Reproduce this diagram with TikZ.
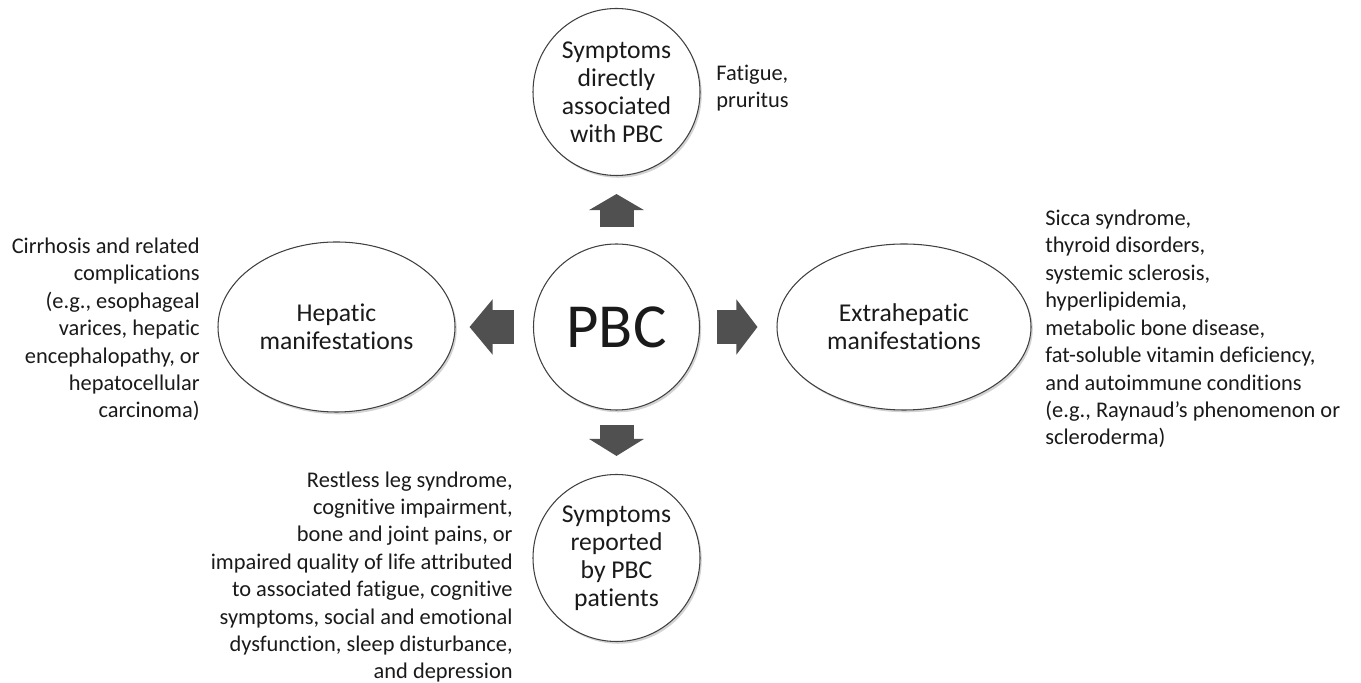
\documentclass[tikz,border=0pt]{standalone}
\usepackage{fontspec}
\setmainfont{Carlito}[Ligatures=NoCommon]
\usepackage{xcolor}
\usepackage{tikz}
\usetikzlibrary{shapes.geometric}
\usetikzlibrary{arrows.meta,shadows}
\definecolor{arrowgray}{HTML}{505050}
\definecolor{inkblack}{HTML}{1A1A1A}

\begin{document}
\begin{tikzpicture}[
	bubble/.style={circle,draw=black!75,line width=0.6pt,fill=white,text=inkblack,inner sep=0pt,
		minimum size=3.34cm,align=center,font=\fontsize{14.6}{16}\selectfont,
		drop shadow={shadow xshift=1pt,shadow yshift=-1.3pt,opacity=0.35}},
	oval/.style={bubble,ellipse},
	note/.style={inner sep=0pt,text=inkblack,font=\fontsize{12.75}{15.6}\selectfont},
	blockarrow/.style={draw=arrowgray,line width=0.68cm,-{Triangle[length=#1,width=1.08cm]}},
	blockarrow/.default=0.44cm]
	\useasboundingbox (0,0) rectangle (27.22,13.66);
	% centre and the four groups
	\node[bubble,minimum size=3.32cm,font=\fontsize{35.7}{40}\selectfont] (pbc) at (12.33,7.12) {PBC};
	\node[bubble] (direct) at (12.33,11.82) {Symptoms\\directly\\associated\\with PBC};
	\node[bubble] (reported) at (12.33,2.50) {Symptoms\\reported\\by PBC\\patients};
	\node[oval,minimum width=4.74cm,minimum height=3.40cm] (hepatic) at (6.73,7.12) {Hepatic\\manifestations};
	\node[oval,minimum width=5.08cm,minimum height=3.32cm] (extra) at (18.08,7.12) {Extrahepatic\\manifestations};
	% arrows
	\draw[blockarrow=0.32cm,shorten <=0.32cm,shorten >=0.36cm] (pbc) -- (direct);
	\draw[blockarrow=0.34cm,shorten <=0.28cm,shorten >=0.36cm] (pbc) -- (reported);
	\draw[blockarrow=0.46cm,shorten <=0.38cm,shorten >=0.28cm] (pbc) -- (hepatic);
	\draw[blockarrow=0.42cm,shorten <=0.34cm,shorten >=0.38cm] (pbc) -- (extra);
	% side texts
	\node[note,anchor=west,align=left] (fatigue) at (14.32,11.90) {Fatigue,\\pruritus};
	\node[note,anchor=east,align=right] (cirrhosis) at (4.0,7.07) {Cirrhosis and related\\complications\\(e.g., esophageal\\varices, hepatic\\encephalopathy, or\\hepatocellular\\carcinoma)};
	\node[note,anchor=west,align=left] (sicca) at (20.9,7.08) {Sicca syndrome,\\thyroid disorders,\\systemic sclerosis,\\hyperlipidemia,\\metabolic bone disease,\\fat-soluble vitamin deficiency,\\and autoimmune conditions\\(e.g., Raynaud’s phenomenon or\\scleroderma)};
	\node[note,anchor=east,align=right] (restless) at (10.26,2.12) {Restless leg syndrome,\\cognitive impairment,\\bone and joint pains, or\\impaired quality of life attributed\\to associated fatigue, cognitive\\symptoms, social and emotional\\dysfunction, sleep disturbance,\\and depression};
\end{tikzpicture}
\end{document}
